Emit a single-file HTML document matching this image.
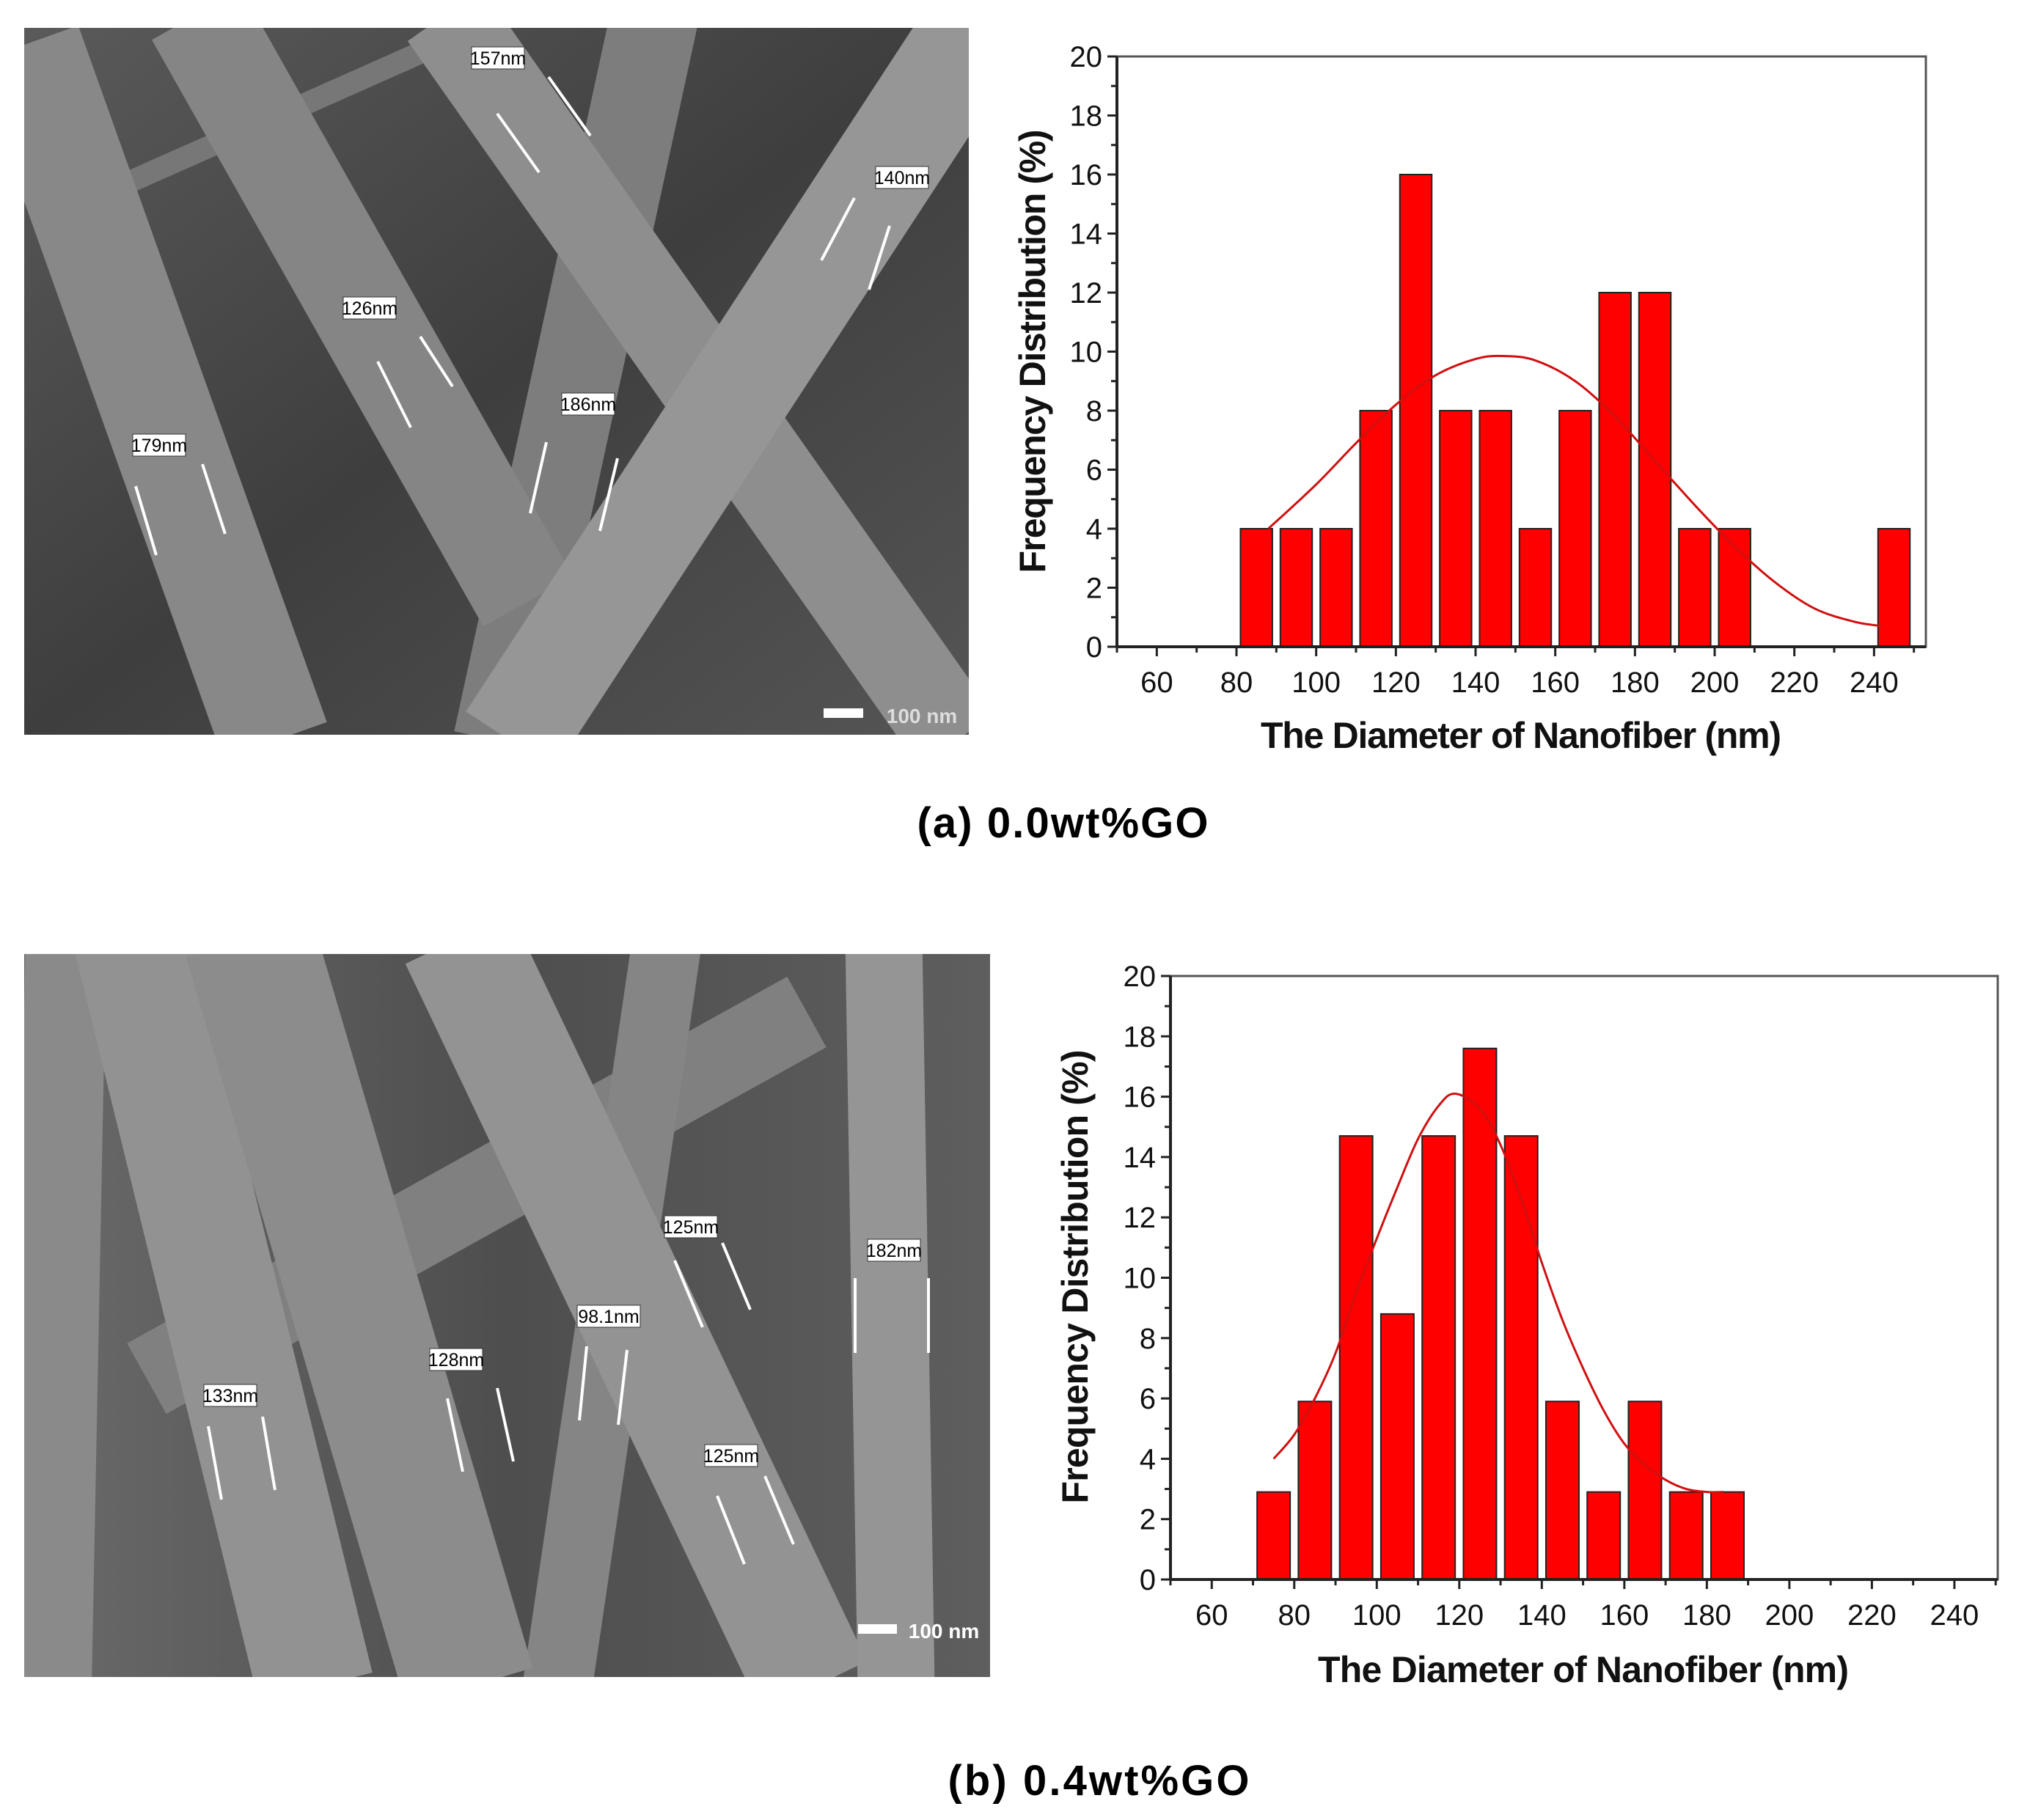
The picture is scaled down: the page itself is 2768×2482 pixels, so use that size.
<!DOCTYPE html>
<html><head><meta charset="utf-8"><style>
html,body{margin:0;padding:0;background:#fff}
svg{display:block}
text{font-family:"Liberation Sans Narrow","Liberation Sans",sans-serif}
</style></head><body>
<svg id="page" width="2768" height="2482" viewBox="0 0 2768 2482" xmlns="http://www.w3.org/2000/svg">
<defs>
<linearGradient id="bg1" x1="0" y1="0" x2="1" y2="1"><stop offset="0" stop-color="#5a5a5a"/><stop offset="0.5" stop-color="#3e3e3e"/><stop offset="1" stop-color="#555"/></linearGradient>
<linearGradient id="bg2" x1="0" y1="0" x2="1" y2="0"><stop offset="0" stop-color="#6a6a6a"/><stop offset="0.5" stop-color="#4e4e4e"/><stop offset="1" stop-color="#5e5e5e"/></linearGradient>
</defs>

<g>
<svg x="33" y="38" width="1288" height="964" viewBox="33 38 1288 964">
<rect x="33" y="38" width="1288" height="964" fill="url(#bg1)"/>
<g stroke-linecap="butt">
<line x1="150" y1="260" x2="600" y2="60" stroke="#777" stroke-width="30"/>
<line x1="893" y1="20" x2="678" y2="1010" stroke="#7d7d7d" stroke-width="120"/>
<line x1="36" y1="60" x2="375" y2="1010" stroke="#888" stroke-width="150"/>
<line x1="268" y1="20" x2="720" y2="820" stroke="#858585" stroke-width="140"/>
<line x1="607" y1="20" x2="1304" y2="1010" stroke="#8e8e8e" stroke-width="125"/>
<line x1="1330" y1="40" x2="696" y2="1010" stroke="#969696" stroke-width="145"/>
</g>
</svg>
<g fill="#fff" stroke="#333" stroke-width="1">
<rect x="643" y="64" width="72" height="30"/>
<rect x="1194" y="227" width="72" height="30"/>
<rect x="468" y="405" width="72" height="30"/>
<rect x="766" y="536" width="72" height="30"/>
<rect x="181" y="592" width="72" height="30"/>
</g>
<g font-size="25" fill="#000" text-anchor="middle">
<text x="679" y="88">157nm</text><text x="1230" y="251">140nm</text><text x="504" y="429">126nm</text><text x="802" y="560">186nm</text><text x="217" y="616">179nm</text>
</g>
<g stroke="#fff" stroke-width="4">
<line x1="748" y1="105" x2="805" y2="185"/><line x1="678" y1="155" x2="735" y2="235"/>
<line x1="1165" y1="270" x2="1120" y2="355"/><line x1="1213" y1="308" x2="1185" y2="395"/>
<line x1="515" y1="493" x2="560" y2="583"/><line x1="573" y1="459" x2="617" y2="527"/>
<line x1="745" y1="603" x2="723" y2="700"/><line x1="842" y1="625" x2="818" y2="724"/>
<line x1="185" y1="663" x2="213" y2="757"/><line x1="276" y1="633" x2="307" y2="728"/>
</g>
<rect x="1123" y="966" width="54" height="13" fill="#fff"/>
<text x="1257" y="986" font-size="28" font-weight="bold" fill="#ddd" text-anchor="middle">100 nm</text>
</g>

<g>
<svg x="33" y="1301" width="1317" height="986" viewBox="33 1301 1317 986">
<rect x="33" y="1301" width="1317" height="986" fill="url(#bg2)"/>
<line x1="200" y1="1880" x2="1100" y2="1380" stroke="#808080" stroke-width="110"/>
<line x1="90" y1="1280" x2="70" y2="2300" stroke="#8a8a8a" stroke-width="110"/>
<line x1="910" y1="1280" x2="760" y2="2300" stroke="#858585" stroke-width="95"/>
<line x1="180" y1="1280" x2="430" y2="2300" stroke="#929292" stroke-width="160"/>
<line x1="340" y1="1280" x2="640" y2="2300" stroke="#8c8c8c" stroke-width="180"/>
<line x1="625" y1="1280" x2="1110" y2="2300" stroke="#939393" stroke-width="160"/>
<line x1="1205" y1="1280" x2="1222" y2="2300" stroke="#959595" stroke-width="105"/>
</svg>
<g fill="#fff" stroke="#333" stroke-width="1">
<rect x="906" y="1658" width="72" height="30"/><rect x="1183" y="1690" width="72" height="30"/>
<rect x="787" y="1780" width="86" height="30"/><rect x="586" y="1839" width="72" height="30"/>
<rect x="278" y="1888" width="72" height="30"/><rect x="961" y="1970" width="72" height="30"/>
</g>
<g font-size="25" fill="#000" text-anchor="middle">
<text x="942" y="1682">125nm</text><text x="1219" y="1714">182nm</text><text x="830" y="1804">98.1nm</text>
<text x="622" y="1863">128nm</text><text x="314" y="1912">133nm</text><text x="997" y="1994">125nm</text>
</g>
<g stroke="#fff" stroke-width="4">
<line x1="920" y1="1719" x2="958" y2="1810"/><line x1="985" y1="1695" x2="1023" y2="1786"/>
<line x1="1166" y1="1743" x2="1166" y2="1845"/><line x1="1266" y1="1743" x2="1266" y2="1845"/>
<line x1="800" y1="1836" x2="790" y2="1937"/><line x1="855" y1="1841" x2="843" y2="1943"/>
<line x1="610" y1="1907" x2="631" y2="2007"/><line x1="678" y1="1893" x2="700" y2="1993"/>
<line x1="284" y1="1945" x2="302" y2="2045"/><line x1="358" y1="1932" x2="375" y2="2032"/>
<line x1="978" y1="2040" x2="1015" y2="2133"/><line x1="1043" y1="2013" x2="1082" y2="2106"/>
</g>
<rect x="1170" y="2215" width="53" height="13" fill="#fff"/>
<text x="1287" y="2234" font-size="28" font-weight="bold" fill="#fff" text-anchor="middle">100 nm</text>
</g>

<g id="chartA"></g>
<g id="chartB"></g>

<text x="1449" y="1142" font-size="58" font-weight="bold" text-anchor="middle" textLength="397" style="font-family:'Liberation Sans',sans-serif">(a) 0.0wt%GO</text>
<text x="1498" y="2448" font-size="58" font-weight="bold" text-anchor="middle" textLength="411" style="font-family:'Liberation Sans',sans-serif">(b) 0.4wt%GO</text>
</svg>
<script>
const NS='http://www.w3.org/2000/svg';
const catsA=[85,95,105,115,125,135,145,155,165,175,185,195,205,245];
const valsA=[4,4,4,8,16,8,8,4,8,12,12,4,4,4];
const fitXA=[88,100,110,120,130,140,147,155,165,175,185,195,205,215,225,235,242];
const fitYA=[4,5.5,6.9,8.2,9.2,9.75,9.85,9.7,9.0,7.8,6.3,4.8,3.4,2.2,1.3,0.85,0.7];
const catsB=[75,85,95,105,115,125,135,145,155,165,175,185];
const valsB=[2.9,5.9,14.7,8.8,14.7,17.6,14.7,5.9,2.9,5.9,2.9,2.9];
const fitXB=[75,80,85,90,95,100,105,110,115,119,125,130,135,140,145,150,155,160,165,170,175,180,184];
const fitYB=[4,4.8,6,7.5,9.5,11.3,13,14.6,15.7,16.1,15.6,14.4,12.6,10.5,8.6,7,5.6,4.5,3.8,3.3,3.0,2.9,2.9];
const xTicks=[60,80,100,120,140,160,180,200,220,240];
const yTicks=[0,2,4,6,8,10,12,14,16,18,20];
const xTitle='The Diameter of Nanofiber (nm)';
const yTitle='Frequency Distribution (%)';

function mk(tag,attrs,parent){const e=document.createElementNS(NS,tag);for(const k in attrs)e.setAttribute(k,attrs[k]);parent.appendChild(e);return e;}
function smooth(pts){
  let d='M'+pts[0][0]+','+pts[0][1];
  for(let i=0;i<pts.length-1;i++){
    const p0=pts[i-1]||pts[i],p1=pts[i],p2=pts[i+1],p3=pts[i+2]||p2;
    const c1=[p1[0]+(p2[0]-p0[0])/6,p1[1]+(p2[1]-p0[1])/6];
    const c2=[p2[0]-(p3[0]-p1[0])/6,p2[1]-(p3[1]-p1[1])/6];
    d+=' C'+c1[0]+','+c1[1]+' '+c2[0]+','+c2[1]+' '+p2[0]+','+p2[1];
  }
  return d;
}

function draw(g,o,cats,vals,fx,fy,tag){
  const sx=v=>o.L+(v-o.xmin)/(o.xmax-o.xmin)*(o.R-o.L);
  const sy=v=>o.B-(v-0)/(20-0)*(o.B-o.T);
  mk('rect',{x:o.L,y:o.T,width:o.R-o.L,height:o.B-o.T,fill:'#fff',stroke:'#555','stroke-width':3},g);
  cats.forEach((c,i)=>{
    const r=mk('rect',{x:sx(c-4),y:sy(vals[i]),width:sx(c+4)-sx(c-4),height:sy(0)-sy(vals[i]),fill:'#f00',stroke:'#222','stroke-width':2},g);
    
    
  });
  const p=mk('path',{d:smooth(fx.map((x,i)=>[sx(x),sy(fy[i])])),fill:'none',stroke:'#d01010','stroke-width':3},g);
  
  
  mk('line',{x1:o.L,y1:o.B,x2:o.R,y2:o.B,stroke:'#222','stroke-width':4},g);
  mk('line',{x1:o.L,y1:o.T,x2:o.L,y2:o.B,stroke:'#222','stroke-width':4},g);
  for(let v=50;v<=o.xmax;v+=10){const maj=xTicks.includes(v);mk('line',{x1:sx(v),y1:o.B,x2:sx(v),y2:o.B+(maj?13:8),stroke:'#222','stroke-width':3},g);}
  for(let v=0;v<=20;v+=1){const maj=v%2===0;mk('line',{x1:o.L,y1:sy(v),x2:o.L-(maj?13:8),y2:sy(v),stroke:'#222','stroke-width':3},g);}
  xTicks.forEach(v=>{const t=mk('text',{x:sx(v),y:o.tickY,'font-size':40,'text-anchor':'middle',fill:'#111'},g);t.textContent=v;
    });
  yTicks.forEach(v=>{const t=mk('text',{x:o.L-20,y:sy(v)+14,'font-size':40,'text-anchor':'end',fill:'#111'},g);t.textContent=v;
    });
  const xt=mk('text',{x:o.xtX,y:o.xtY,'font-size':50,'font-weight':'bold','text-anchor':'middle',textLength:o.xtLen,fill:'#111'},g);
  xt.textContent=xTitle;
  
  const yt=mk('text',{x:0,y:0,'font-size':50,'font-weight':'bold','text-anchor':'middle',textLength:o.ytLen,fill:'#111',
    transform:'translate('+o.ytX+','+o.ytY+') rotate(-90)','style':"font-family:'Liberation Sans',sans-serif"},g);
  yt.textContent=yTitle;
  
}
draw(document.getElementById('chartA'),{L:1523,R:2626,T:77,B:882,xmin:50,xmax:253,tickY:944,xtX:2074,xtY:1020,xtLen:710,ytX:1425,ytY:479,ytLen:605},catsA,valsA,fitXA,fitYA,'a');
draw(document.getElementById('chartB'),{L:1596,R:2724,T:1331,B:2154,xmin:50,xmax:250.5,tickY:2216,xtX:2159,xtY:2294,xtLen:724,ytX:1483,ytY:1741,ytLen:619},catsB,valsB,fitXB,fitYB,'b');
</script>
</body></html>
